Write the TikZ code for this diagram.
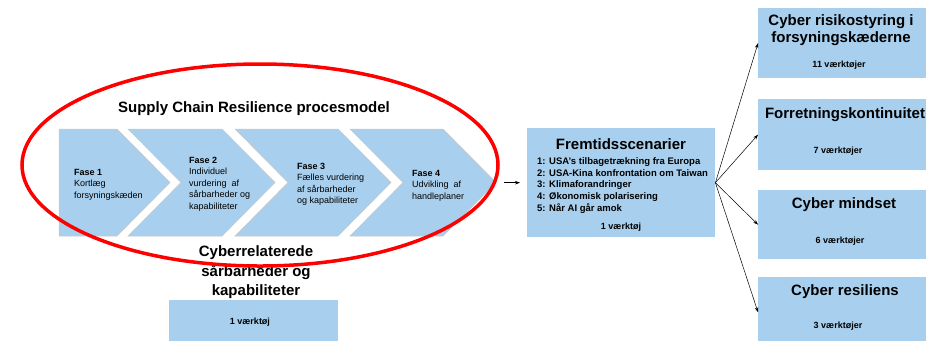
\documentclass[tikz,border=0pt]{standalone}
\usepackage{fontspec}
\setmainfont{Liberation Sans}
\usetikzlibrary{arrows.meta,shapes.geometric}
\definecolor{paleblue}{RGB}{168,208,238}
\definecolor{ringred}{RGB}{255,0,0}

\begin{document}
\begin{tikzpicture}[x=1bp,y=-1bp,
  phase/.style={fill=paleblue, draw=black!22, line width=0.5bp},
  bigtitle/.style={font=\fontsize{15bp}{18bp}\selectfont\bfseries, align=center, inner sep=0pt},
  stagetext/.style={font=\fontsize{9bp}{11.5bp}\selectfont, align=left, anchor=west, inner sep=0pt},
  listtext/.style={font=\fontsize{9.5bp}{11.75bp}\selectfont\bfseries, align=left, anchor=west, inner sep=0pt},
  tools/.style={font=\fontsize{9bp}{11bp}\selectfont\bfseries, inner sep=0pt},
  panel/.style={fill=paleblue, draw=none, inner sep=0pt, anchor=north west},
  link/.style={-{Stealth[length=5bp,width=3.5bp]}, line width=0.5bp}]

\useasboundingbox (0,0) rectangle (926,340);

% heading of the process model
\node[bigtitle] (modeltitle) at (254,109) {Supply Chain Resilience procesmodel};

% the four phases as chevrons
\path[phase] (59,129) -- (117,129) -- (170,182.5) -- (117,236) -- (59,236) -- cycle;
\path[phase] (128,129) -- (222,129) -- (275,182.5) -- (222,236) -- (128,236) -- (181,182.5) -- cycle;
\path[phase] (235,129) -- (338,129) -- (391,182.5) -- (338,236) -- (235,236) -- (288,182.5) -- cycle;
\path[phase] (350,129) -- (443,129) -- (496,182.5) -- (443,236) -- (350,236) -- (403,182.5) -- cycle;

\node[stagetext] (f1) at (74,184.5) {\textbf{Fase 1}\\Kortlæg\\forsyningskæden};
\node[stagetext] (f2) at (189,184) {\textbf{Fase 2}\\Individuel\\vurdering\ \ af\\sårbarheder og\\kapabiliteter};
\node[stagetext] (f3) at (297,184.5) {\textbf{Fase 3}\\Fælles vurdering\\af sårbarheder\\og kapabiliteter};
\node[stagetext] (f4) at (412,185.5) {\textbf{Fase 4}\\Udvikling\ \ af\\handleplaner};

% cyber related weaknesses and capabilities
\node[bigtitle, font=\fontsize{15bp}{19.5bp}\selectfont\bfseries] (cyrel) at (256,272.5)
  {Cyberrelaterede\\sårbarheder og\\kapabiliteter};
\node[panel, minimum width=169bp, minimum height=50bp] (cybox) at (169,300) {};
\node[tools] (cytools) at (250,322) {1 værktøj};

% red ring round the process model
\node[draw=ringred, line width=3.5bp, ellipse, minimum width=476bp, minimum height=202bp, inner sep=0pt] (ring) at (260,165) {};

% future scenarios
\node[panel, minimum width=188bp, minimum height=109bp] (scen) at (527,128) {};
\node[bigtitle] (scentitle) at (621,144) {Fremtidsscenarier};
\node[listtext] (scenlist) at (537,185.5)
  {1: USA’s tilbagetrækning fra Europa\\2: USA-Kina konfrontation om Taiwan\\3: Klimaforandringer\\4: Økonomisk polarisering\\5: Når AI går amok};
\node[tools] (scentools) at (621,227) {1 værktøj};

\draw[link, shorten <=4bp, shorten >=7bp] (scen.west -| ring.east) -- (scen.west);

% four outcome areas
\node[panel, minimum width=174bp, minimum height=70bp] (b1) at (758,8) {};
\node[panel, minimum width=174bp, minimum height=71bp] (b2) at (758,99) {};
\node[panel, minimum width=174bp, minimum height=69bp] (b3) at (758,190) {};
\node[panel, minimum width=174bp, minimum height=70bp] (b4) at (758,277) {};

\node[bigtitle, font=\fontsize{15bp}{17bp}\selectfont\bfseries] (b1title) at (841,30.5) {Cyber risikostyring i\\forsyningskæderne};
\node[tools] (b1tools) at (839,65) {11 værktøjer};
\node[bigtitle] (b2title) at (845,115) {Forretningskontinuitet};
\node[tools] (b2tools) at (838,151) {7 værktøjer};
\node[bigtitle] (b3title) at (844,205) {Cyber mindset};
\node[tools] (b3tools) at (840,241) {6 værktøjer};
\node[bigtitle] (b4title) at (845,292) {Cyber resiliens};
\node[tools] (b4tools) at (838,326) {3 værktøjer};

\draw[link] (scen.east) -- (b1.west);
\draw[link] (scen.east) -- (b2.west);
\draw[link] (scen.east) -- (b3.west);
\draw[link] (scen.east) -- (b4.west);
\end{tikzpicture}
\end{document}
